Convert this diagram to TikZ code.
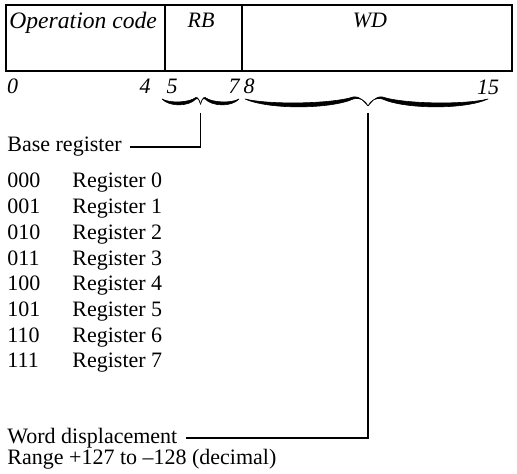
\documentclass[tikz,border=0pt]{standalone}
\usepackage{fontspec}
\setmainfont{Liberation Serif}

\begin{document}
\begin{tikzpicture}[
      x=0.5pt, y=-0.5pt,
      field/.style={line width=0.8pt},
      txt/.style={anchor=base west, inner sep=0pt, font=\fontsize{11}{13}\selectfont},
      fname/.style={anchor=base, inner sep=0pt, font=\fontsize{11}{13}\selectfont\itshape},
      bitno/.style={anchor=base, inner sep=0pt, font=\fontsize{11}{13}\selectfont\itshape},
      bfill/.style={fill=black, draw=black, line width=0.3pt, line join=round},
      lead/.style={line width=0.8pt, shorten >=4pt}
    ]
    \useasboundingbox (0,0) rectangle (517,474);

    % ---- field boundaries ----
    \def\ytop{5}
    \def\ybot{71}
    \def\xa{6}
    \def\xb{165}
    \def\xc{242}
    \def\xd{512}

    % ---- one half of a brace, 100 long, end at (0,0), tip at (100,7) ----
    \def\halfbrace{(0,0) .. controls (20,11) and (70,10) .. (88,0)
      .. controls (94,-2) and (98,2) .. (100,7)
      .. controls (97,3) and (94,-3) .. (88,-2)
      .. controls (70,5) and (20,6) .. (0,0) -- cycle}

    % ================= instruction word =================
    \draw[field] (\xa,\ytop) rectangle (\xd,\ybot);
    \draw[field] (\xb,\ytop) -- (\xb,\ybot);
    \draw[field] (\xc,\ytop) -- (\xc,\ybot);

    \node[txt, font=\fontsize{11.8}{13}\selectfont\itshape] (opc) at (9,29) {Operation code};
    \node[fname] (rb) at (201,28) {RB};
    \node[fname] (wd) at (370,28) {WD};

    % bit numbers
    \node[bitno] (b0) at (12.5,94) {0};
    \node[bitno] (b4) at (145,94) {4};
    \node[bitno] (b5) at (172,94) {5};
    \node[bitno] (b7) at (234,94) {7};
    \node[bitno] (b8) at (249,94) {8};
    \node[bitno] (b15) at (488,95) {15};

    % ================= braces =================
    \begin{scope}[shift={(162,99)}, xscale=0.385, yscale=0.75]
      \filldraw[bfill] \halfbrace;
    \end{scope}
    \begin{scope}[shift={(239,99)}, xscale=-0.385, yscale=0.75]
      \filldraw[bfill] \halfbrace;
    \end{scope}
    \begin{scope}[shift={(245,99)}, xscale=1.23]
      \filldraw[bfill] \halfbrace;
    \end{scope}
    \begin{scope}[shift={(488,99)}, xscale=-1.2]
      \filldraw[bfill] \halfbrace;
    \end{scope}

    \coordinate (rbtip) at (200.5,113);
    \coordinate (wdtip) at (368,113);

    % ================= base register =================
    \node[txt] (base) at (7,152) {Base register};

    \foreach \code [count=\i from 0] in {000,001,010,011,100,101,110,111} {
      \node[txt] (code\i) at (7,{188+25.7*\i}) {\code};
      \node[txt] (reg\i) at (72,{188+25.7*\i}) {Register \i};
    }

    % ================= word displacement =================
    \node[txt] (disp) at (7,443) {Word displacement};
    \node[txt] (range) at (7,464) {Range +127 to \textendash128 (decimal)};

    % ---- leaders ----
    \draw[lead] (rbtip) |- (base.east);
    \draw[lead] (wdtip) |- (disp.east);

    \end{tikzpicture}
\end{document}
